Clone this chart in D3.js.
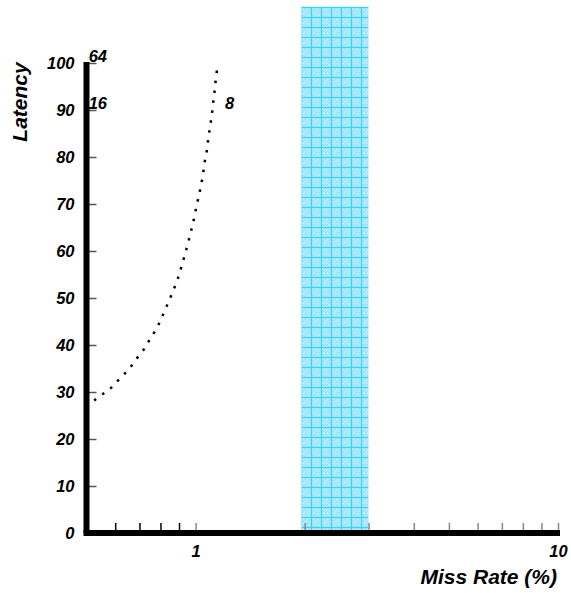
<!DOCTYPE html>
<html>
<head>
<meta charset="utf-8">
<script src="https://cdnjs.cloudflare.com/ajax/libs/d3/7.8.5/d3.min.js"></script>
<style>
  html, body { margin: 0; padding: 0; background: #fff; }
  text { font-family: "Liberation Sans", Arial, sans-serif; font-weight: bold; font-style: italic; }
</style>
</head>
<body>
<div id="chart"></div>
<script>
const width = 571;
const height = 593;

// dotted curve
const missRates = [0.525, 0.553, 0.579, 0.606, 0.632, 0.661, 0.686, 0.713, 0.737, 0.761, 0.785, 0.806,
  0.827, 0.848, 0.868, 0.888, 0.905, 0.921, 0.937, 0.952, 0.969, 0.981, 0.996, 1.006, 1.024, 1.032,
  1.047, 1.054, 1.065, 1.077, 1.084, 1.095, 1.105, 1.114, 1.121, 1.130, 1.137, 1.148];
const latencies = [28.2, 29.5, 30.6, 32.2, 33.6, 35.3, 37.0, 38.6, 40.4, 42.1, 43.9, 45.8,
  47.8, 49.7, 51.6, 53.6, 55.5, 57.6, 59.5, 61.6, 63.8, 65.7, 67.7, 69.8, 71.9, 73.8,
  75.8, 77.9, 79.9, 81.9, 84.0, 86.1, 88.2, 90.3, 92.3, 94.4, 96.6, 98.9];

// shaded band
const bandStart = 1.96;
const bandEnd = 3.0;
const bandTop = 112;

// annotations
const noteText = ["64", "16", "8"];
const noteX = [0.507, 0.507, 1.205];
const noteY = [100, 90, 90];

// axis ticks
const yTicks = [10, 20, 30, 40, 50, 60, 70, 80, 90, 100];
const yLabels = [0, 10, 20, 30, 40, 50, 60, 70, 80, 90, 100];
const xTicks = [0.6, 0.7, 0.8, 0.9, 1, 2, 3, 4, 5, 6, 7, 8, 9, 10];
const xLabels = [1, 10];

const x = d3.scaleLog().domain([0.5, 10]).range([86.5, 558]);
const y = d3.scaleLinear().domain([0, 100]).range([533, 63]);

const svg = d3.select("#chart").append("svg")
  .attr("width", width)
  .attr("height", height);

const defs = svg.append("defs");
const pat = defs.append("pattern")
  .attr("id", "grid")
  .attr("patternUnits", "userSpaceOnUse")
  .attr("x", 301).attr("y", 7)
  .attr("width", 10).attr("height", 10);
pat.append("rect").attr("width", 10).attr("height", 10).attr("fill", "#9ce6fc");
[[2, 2], [4, 4], [6, 6], [2, 6], [6, 2], [4, 8], [8, 4], [8, 8], [3, 5], [5, 3], [7, 7]].forEach(p => {
  pat.append("rect").attr("x", p[0]).attr("y", p[1]).attr("width", 1).attr("height", 1).attr("fill", "#d4f5fe");
});
pat.append("rect").attr("x", 0).attr("y", 0).attr("width", 10).attr("height", 1).attr("fill", "#3cd0f8");
pat.append("rect").attr("x", 0).attr("y", 0).attr("width", 1).attr("height", 10).attr("fill", "#3cd0f8");

// band
svg.append("rect")
  .attr("x", x(bandStart))
  .attr("y", y(bandTop))
  .attr("width", x(bandEnd) - x(bandStart))
  .attr("height", y(0) - y(bandTop))
  .attr("fill", "url(#grid)");

// y axis ticks + labels
const yAxis = d3.axisLeft(y)
  .tickValues(yLabels)
  .tickSizeInner(-10)
  .tickSizeOuter(0)
  .tickPadding(12);
const gy = svg.append("g").attr("transform", `translate(${x(0.5)},0)`).call(yAxis);
gy.select(".domain").remove();
gy.selectAll(".tick line").attr("stroke", "#555").attr("stroke-width", 1.5)
  .attr("display", d => yTicks.includes(d) ? null : "none");
gy.selectAll(".tick text").attr("font-size", 16.5).attr("fill", "#000").attr("dy", "0.33em");

// x axis ticks + labels
const xAxis = d3.axisBottom(x)
  .tickValues(xTicks)
  .tickSizeInner(-10)
  .tickSizeOuter(0)
  .tickPadding(12)
  .tickFormat(d => xLabels.includes(d) ? d : "");
const gx = svg.append("g").attr("transform", `translate(0,${y(0)})`).call(xAxis);
gx.select(".domain").remove();
gx.selectAll(".tick line")
  .attr("stroke", d => d < 1 ? "#000" : "#888")
  .attr("stroke-width", 1.5);
gx.selectAll(".tick text").attr("font-size", 16.5).attr("fill", "#000");

// thick axis lines
svg.append("line")
  .attr("x1", x(0.5)).attr("x2", x(0.5))
  .attr("y1", y(0)).attr("y2", y(100) - 1)
  .attr("stroke", "#000").attr("stroke-width", 6);
svg.append("line")
  .attr("x1", x(0.5) - 3).attr("x2", x(10) + 2)
  .attr("y1", y(0)).attr("y2", y(0))
  .attr("stroke", "#000").attr("stroke-width", 6);

// dotted curve
const pts = missRates.map((m, i) => [x(m), y(latencies[i])]);
svg.append("path")
  .attr("d", d3.line().curve(d3.curveCatmullRom)(pts))
  .attr("fill", "none")
  .attr("stroke", "#000")
  .attr("stroke-width", 2.5)
  .attr("stroke-dasharray", "2.5,7.5");

// annotations
svg.selectAll(".note")
  .data(noteText)
  .enter().append("text")
  .attr("class", "note")
  .attr("x", (d, i) => x(noteX[i]))
  .attr("y", (d, i) => y(noteY[i]) - 1)
  .attr("font-size", 16.5)
  .text(d => d);

// axis titles
svg.append("text")
  .attr("transform", "translate(27,102) rotate(-90)")
  .attr("text-anchor", "middle")
  .attr("font-size", 21)
  .text("Latency");

svg.append("text")
  .attr("x", 557)
  .attr("y", 584)
  .attr("text-anchor", "end")
  .attr("font-size", 21)
  .text("Miss Rate (%)");
</script>
</body>
</html>
